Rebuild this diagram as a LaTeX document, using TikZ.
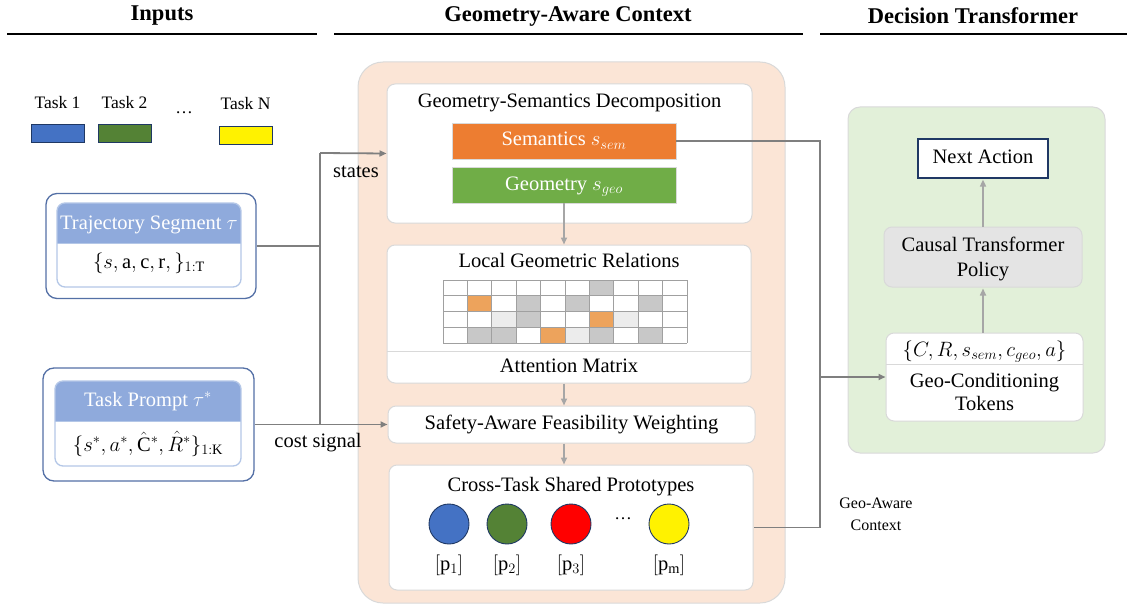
\documentclass[tikz,border=0pt]{standalone}
\usepackage{fontspec}
\setmainfont{Liberation Serif}
\usetikzlibrary{arrows.meta}
\definecolor{peach}{HTML}{FBE5D6}
\definecolor{greenpanel}{HTML}{E2F0D9}
\definecolor{semorange}{HTML}{ED7D31}
\definecolor{geogreen}{HTML}{70AD47}
\definecolor{taskblue}{HTML}{4472C4}
\definecolor{taskgreen}{HTML}{548235}
\definecolor{hdrblue}{HTML}{8FAADC}
\definecolor{innerblue}{HTML}{B4C7E7}
\definecolor{outerblue}{HTML}{5470A6}
\definecolor{navy}{HTML}{1F3864}
\definecolor{boxgray}{HTML}{D9D9D9}
\definecolor{dataline}{HTML}{7F7F7F}
\definecolor{arrowgray}{HTML}{A6A6A6}
\definecolor{ctpgray}{HTML}{E4E4E4}
\definecolor{gD}{HTML}{C8C8C8}
\definecolor{gL}{HTML}{ECECEC}
\definecolor{gO}{HTML}{EDA35C}
\definecolor{gridc}{HTML}{A0A0A0}
\begin{document}
\begin{tikzpicture}[x=1pt,y=-1pt,
  lbl/.style={font=\fontsize{20.5}{24}\selectfont, inner sep=0pt, text height=14pt, text depth=4pt},
  smalllbl/.style={font=\fontsize{17.5}{21}\selectfont, inner sep=0pt},
  geolbl/.style={font=\fontsize{16}{19}\selectfont, inner sep=0pt, align=center},
  hdrtxt/.style={font=\fontsize{22.5}{27}\selectfont\bfseries, inner sep=0pt},
  rbox/.style={draw=boxgray, line width=1pt, fill=white, rounded corners=8pt, inner sep=0pt},
  outerbox/.style={draw=outerblue, line width=1.3pt, fill=white, rounded corners=11pt, inner sep=0pt},
  innerbox/.style={draw=innerblue, line width=1.3pt, rounded corners=8pt, inner sep=0pt},
  taskrect/.style={draw=navy, line width=1pt, minimum width=53pt, minimum height=18pt, inner sep=0pt},
  proto/.style={circle, draw=navy, line width=0.9pt, minimum size=40pt, inner sep=0pt},
  dline/.style={draw=dataline, line width=1.8pt},
  darrow/.style={dline, -{Triangle[length=7pt,width=6pt]}},
  larrow/.style={draw=arrowgray, line width=1.6pt, -{Triangle[length=7pt,width=6pt]}},
  gridline/.style={draw=gridc, line width=1pt}
]
\useasboundingbox (0,0) rectangle (1127,607);

% headers
\node[hdrtxt] (hin) at (162,16) {Inputs};
\node[hdrtxt] (hgac) at (568,16) {Geometry-Aware Context};
\node[hdrtxt] (hdt) at (973,16) {Decision Transformer};
\draw[line width=1.3pt] (7,34) -- (317,34);
\draw[line width=1.3pt] (334,34) -- (803,34);
\draw[line width=1.3pt] (820,34) -- (1127,34);

% task legend
\node[smalllbl] (t1) at (57.5,103) {Task 1};
\node[smalllbl] (t2) at (124.5,103) {Task 2};
\node[smalllbl] (tdots) at (184,113) {\ldots};
\node[smalllbl] (tn) at (245.5,104) {Task N};
\node[taskrect, fill=taskblue] (r1) at (57.5,134) {};
\node[taskrect, fill=taskgreen] (r2) at (124.5,134) {};
\node[taskrect, fill=yellow] (rn) at (245.5,135.5) {};

% trajectory segment
\node[outerbox, minimum width=210pt, minimum height=105pt] (traj) at (151,246) {};
\begin{scope}
  \clip[rounded corners=8pt] (57,203) rectangle (241,287);
  \fill[white] (57,203) rectangle (241,287);
  \fill[hdrblue] (57,203) rectangle (241,243);
\end{scope}
\node[innerbox, minimum width=184pt, minimum height=84pt] (trajin) at (149,245) {};
\draw[innerblue, line width=1pt] (57,243) -- (241,243);
\node[lbl, text=white] (trajt) at (149,224) {Trajectory Segment $\tau$};
\node[lbl] (trajb) at (149,263) {$\{s,\mathrm{a},\mathrm{c},\mathrm{r},\}_{1:\mathrm{T}}$};

% task prompt
\node[outerbox, minimum width=211pt, minimum height=113pt] (prompt) at (148.5,424.5) {};
\begin{scope}
  \clip[rounded corners=8pt] (55,381) rectangle (241,466);
  \fill[white] (55,381) rectangle (241,466);
  \fill[hdrblue] (55,381) rectangle (241,421);
\end{scope}
\node[innerbox, minimum width=186pt, minimum height=85pt] (promptin) at (148,423.5) {};
\draw[innerblue, line width=1pt] (55,421) -- (241,421);
\node[lbl, text=white] (promptt) at (148,401) {Task Prompt $\tau^{*}$};
\node[lbl] (promptb) at (148,446) {$\{s^{*},a^{*},\hat{\mathrm{C}}^{*},\hat{R}^{*}\}_{1:\mathrm{K}}$};

% peach panel
\node[draw=boxgray, line width=1pt, fill=peach, rounded corners=25pt, minimum width=427pt, minimum height=541pt, inner sep=0pt] (gac) at (571.5,332.5) {};

% geometry-semantics decomposition
\node[rbox, minimum width=365pt, minimum height=139pt] (gsd) at (569.5,153.5) {};
\node[lbl] (gsdt) at (569.5,103) {Geometry-Semantics Decomposition};
\node[lbl, fill=semorange, draw=boxgray, line width=0.8pt, text=white, minimum width=224pt, minimum height=36pt] (sem) at (564,141) {Semantics $s_{sem}$};
\node[lbl, fill=geogreen, draw=boxgray, line width=0.8pt, text=white, minimum width=224pt, minimum height=36pt] (geo) at (564,185) {Geometry $s_{geo}$};

% local geometric relations
\node[rbox, minimum width=364pt, minimum height=138pt] (lgr) at (569,314) {};
\node[lbl] (lgrt) at (569,262) {Local Geometric Relations};
\foreach \c/\r/\col in {7/1/gD, 2/2/gO, 4/2/gD, 6/2/gD, 9/2/gD, 3/3/gL, 4/3/gD, 7/3/gO, 8/3/gL, 2/4/gD, 3/4/gD, 5/4/gO, 6/4/gL, 7/4/gD, 9/4/gD}
  \fill[\col] ({443+(\c-1)*24.4},{280+(\r-1)*15.75}) rectangle ++(24.4,15.75);
\foreach \i in {0,...,10} \draw[gridline] ({443+\i*24.4},280) -- ({443+\i*24.4},343);
\foreach \j in {0,...,4} \draw[gridline] (443,{280+\j*15.75}) -- (687,{280+\j*15.75});
\draw[draw=boxgray, line width=1pt] (387,351) -- (751,351);
\node[lbl] (attn) at (569,367) {Attention Matrix};

% safety-aware feasibility weighting
\node[rbox, lbl, minimum width=367pt, minimum height=37pt] (safety) at (571.5,424.5) {Safety-Aware Feasibility Weighting};

% cross-task shared prototypes
\node[rbox, minimum width=364pt, minimum height=125pt] (ctsp) at (571,527.5) {};
\node[lbl] (ctspt) at (571,486) {Cross-Task Shared Prototypes};
\node[proto, fill=taskblue] (p1) at (449,524) {};
\node[proto, fill=taskgreen] (p2) at (507,524) {};
\node[proto, fill=red] (p3) at (571,524) {};
\node[smalllbl] (pdots) at (623,519) {\ldots};
\node[proto, fill=yellow] (pm) at (669,524) {};
\node[lbl] (p1l) at (449,565) {$[\mathrm{p}_1]$};
\node[lbl] (p2l) at (507,565) {$[\mathrm{p}_2]$};
\node[lbl] (p3l) at (571,565) {$[\mathrm{p}_3]$};
\node[lbl] (pml) at (669,565) {$[\mathrm{p}_{\mathrm{m}}]$};

% decision transformer panel
\node[draw=boxgray, line width=1pt, fill=greenpanel, rounded corners=12pt, minimum width=257pt, minimum height=346pt, inner sep=0pt] (dt) at (976.5,280) {};
\node[lbl, draw=navy, line width=1.2pt, fill=white, minimum width=130pt, minimum height=39pt] (next) at (983,158.5) {Next Action};
\node[rbox, fill=ctpgray, minimum width=198pt, minimum height=60pt] (ctp) at (983,257) {};
\node[lbl] (ctpt1) at (983,246) {Causal Transformer};
\node[lbl] (ctpt2) at (983,271) {Policy};
\node[rbox, minimum width=197pt, minimum height=88pt] (gct) at (984.5,377) {};
\node[lbl] (gcttop) at (984.5,351) {$\{C,R,s_{sem},c_{geo},a\}$};
\draw[draw=boxgray, line width=1pt] (886,364) -- (1083,364);
\node[lbl] (gct1) at (984.5,382) {Geo-Conditioning};
\node[lbl] (gct2) at (984.5,405) {Tokens};

% data connectors
\coordinate (jx) at (320,153);
\coordinate (rx) at (820,141);
\draw[dline] (traj.east) -| (jx);
\draw[darrow] (jx) -- (gsd.west);
\draw[dline] (jx) -- (jx |- prompt.east);
\draw[darrow] (prompt.east) -- (safety.west);
\node[lbl] (states) at (356,173) {states};
\node[lbl] (cost) at (318,442) {cost signal};
\draw[dline] (sem.east) -- (rx) -- (rx |- ctsp.east) -- (ctsp.east);
\draw[darrow] (rx |- gct.west) -- (gct.west);
\node[geolbl] (gac1) at (876,503) {Geo-Aware};
\node[geolbl] (gac2) at (876,525) {Context};

% internal arrows
\draw[larrow] (geo.south) -- (geo.south |- lgr.north);
\draw[larrow] (lgr.south -| geo.south) -- (safety.north -| geo.south);
\draw[larrow] (safety.south -| geo.south) -- (ctsp.north -| geo.south);
\draw[larrow] (gct.north -| next.south) -- ([yshift=-1pt]ctp.south -| next.south);
\draw[larrow] (ctp.north -| next.south) -- ([yshift=-1pt]next.south);
\end{tikzpicture}
\end{document}
